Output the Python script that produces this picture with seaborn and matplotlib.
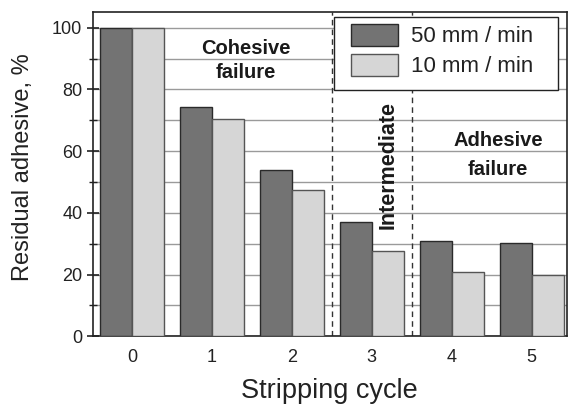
import matplotlib
matplotlib.use("Agg")
import matplotlib.pyplot as plt
import seaborn as sns
import pandas as pd
from matplotlib.patches import Patch, Rectangle
from matplotlib.ticker import MultipleLocator, FixedLocator

cycles = ["0", "1", "2", "3", "4", "5"]
rate_fast = [100, 74.2, 53.9, 37.0, 30.8, 30.1]
rate_slow = [100, 70.4, 47.4, 27.6, 20.7, 19.9]
series_names = ["50 mm / min", "10 mm / min"]
colors = ["#737373", "#d6d6d6"]
edges = ["#2a2a2a", "#555555"]

df = pd.DataFrame({
    "cycle": cycles * 2,
    "value": rate_fast + rate_slow,
    "rate": [series_names[0]] * len(cycles) + [series_names[1]] * len(cycles),
})

sns.set_theme(style="white")
plt.rcParams["font.family"] = ["Liberation Sans", "DejaVu Sans"]

fig = plt.figure(figsize=(5.69, 4.04), dpi=100)
ax = fig.add_axes([92.7 / 569, 1 - 336.3 / 404, 474.3 / 569, 324.6 / 404])

sns.barplot(data=df, x="cycle", y="value", hue="rate", palette=colors,
            width=0.8, ax=ax, legend=False, zorder=3, linewidth=1.0)

# colour the edges per series
for container, ec in zip(ax.containers, edges):
    for bar in container:
        bar.set_edgecolor(ec)

ax.set_xlim(-0.49, 5.44)
ax.set_ylim(0, 105.2)

# horizontal grid every 10 %
ax.yaxis.set_major_locator(MultipleLocator(20))
ax.yaxis.set_minor_locator(MultipleLocator(10))
ax.grid(True, axis="y", which="both", color="#9a9a9a", linewidth=1.0, zorder=0)
ax.grid(False, axis="x")
ax.set_axisbelow(True)

# category labels at bar-group centres, ticks between groups
ax.xaxis.set_minor_locator(FixedLocator([0.5, 1.5, 2.5, 3.5, 4.5]))
ax.tick_params(axis="x", which="major", length=0, labelsize=13, pad=9, colors="#222222")
ax.tick_params(axis="x", which="minor", length=8, width=1.2, direction="inout", color="#222222")
ax.tick_params(axis="y", which="major", length=9, width=1.2, direction="inout", labelsize=13,
               color="#222222", labelcolor="#222222", left=True, pad=3)
ax.tick_params(axis="y", which="minor", length=6, width=1.0, direction="inout", color="#222222", left=True)

for side in ["left", "bottom", "top", "right"]:
    ax.spines[side].set_visible(True)
    ax.spines[side].set_color("#222222")
    ax.spines[side].set_linewidth(1.2)

ax.set_xlabel("Stripping cycle", fontsize=19.5, color="#222222", labelpad=9)
ax.set_ylabel("Residual adhesive, %", fontsize=17, color="#222222")
ax.yaxis.set_label_coords(-0.124, 0.52)

# regime boundaries
for xb in [2.5, 3.5]:
    ax.axvline(xb, color="#333333", linestyle=(0, (4, 3)), linewidth=1.0, zorder=2)

note = dict(ha="center", va="center", fontweight="bold", color="#1a1a1a")
ax.text(1.42, 93.2, "Cohesive", fontsize=14.5, **note)
ax.text(1.42, 85.5, "failure", fontsize=14.5, **note)
ax.text(3.2, 55.5, "Intermediate", rotation=90, fontsize=15.5, **note)
ax.text(4.58, 63.4, "Adhesive", fontsize=14.5, **note)
ax.text(4.58, 53.9, "failure", fontsize=14.5, **note)

# legend box drawn as a frame plus a frameless legend inside it
frame = Rectangle((0.509, 0.759), 0.472, 0.225, transform=ax.transAxes,
                  facecolor="white", edgecolor="#222222", linewidth=1.0, zorder=4)
ax.add_patch(frame)
handles = [Patch(facecolor=c, edgecolor=e, linewidth=1.0) for c, e in zip(colors, edges)]
leg = ax.legend(handles, series_names, loc="upper left", bbox_to_anchor=(0.5446, 0.962),
                fontsize=16, frameon=False, handlelength=2.1, handleheight=1.12,
                handletextpad=0.6, labelspacing=0.3, borderpad=0, borderaxespad=0)
leg.set_zorder(5)
for t in leg.get_texts():
    t.set_color("#222222")

fig.savefig("out.png", dpi=100)
